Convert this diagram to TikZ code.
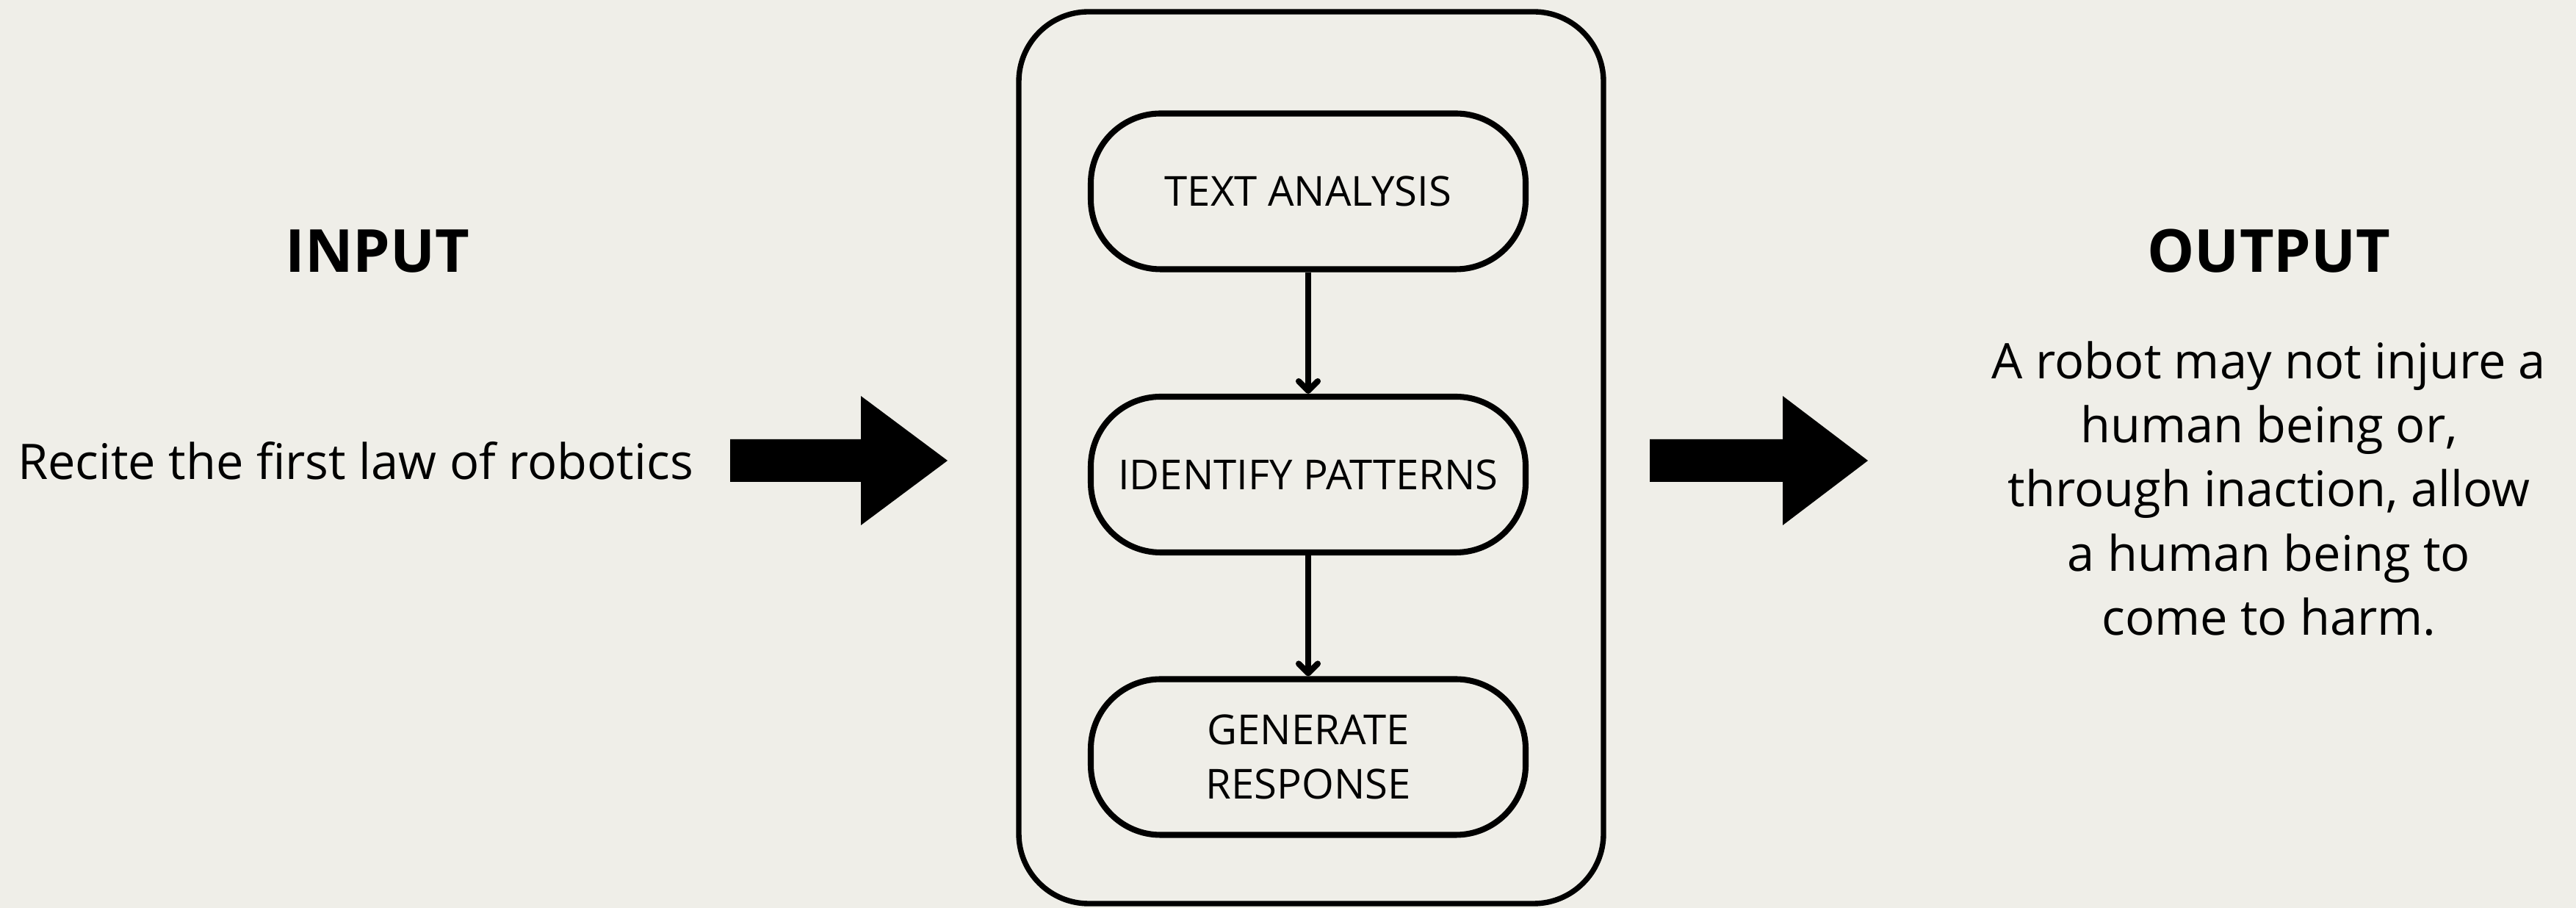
\documentclass[tikz,border=0pt]{standalone}
\usepackage{fontspec}
\setmainfont{Open Sans}
\usetikzlibrary{arrows.meta}
\definecolor{paper}{RGB}{239,238,232}
\begin{document}
\begin{tikzpicture}[
  stage/.style={draw,line width=2.3pt,rounded corners=0.95cm,minimum width=5.92cm,minimum height=2.12cm,align=center,font=\fontsize{16}{21}\selectfont},
  flow/.style={line width=2.3pt,-{Straight Barb[round,length=1.3mm,width=2.6mm]}},
  heading/.style={font=\fontsize{23}{28}\selectfont\bfseries},
  body/.style={align=center,font=\fontsize{19}{24.8}\selectfont}]
 \fill[paper](0,0) rectangle (35.07,12.36);
 \draw[line width=2.1pt,rounded corners=0.95cm](13.87,0.06) rectangle (21.83,12.20);
 \node[stage](ta) at (17.81,9.755) {TEXT ANALYSIS};
 \node[stage](ip) at (17.81,5.90) {IDENTIFY PATTERNS};
 \node[stage](gr) at (17.81,2.055) {GENERATE\\RESPONSE};
 \draw[flow](ta)--(ip);
 \draw[flow](ip)--(gr);
 \node[heading](input) at (5.14,8.94) {INPUT};
 \node[body](prompt) at (4.84,6.09) {Recite the first law of robotics};
 \node[heading](output) at (30.89,8.94) {OUTPUT};
 \node[body](answer) at (30.89,5.71) {A robot may not injure a\\human being or,\\through inaction, allow\\a human being to\\come to harm.};
 \fill(9.94,6.38)--(11.72,6.38)--(11.72,6.97)--(12.90,6.09)--(11.72,5.21)--(11.72,5.80)--(9.94,5.80)--cycle;
 \fill(22.46,6.38)--(24.27,6.38)--(24.27,6.97)--(25.43,6.09)--(24.27,5.21)--(24.27,5.80)--(22.46,5.80)--cycle;
\end{tikzpicture}
\end{document}
